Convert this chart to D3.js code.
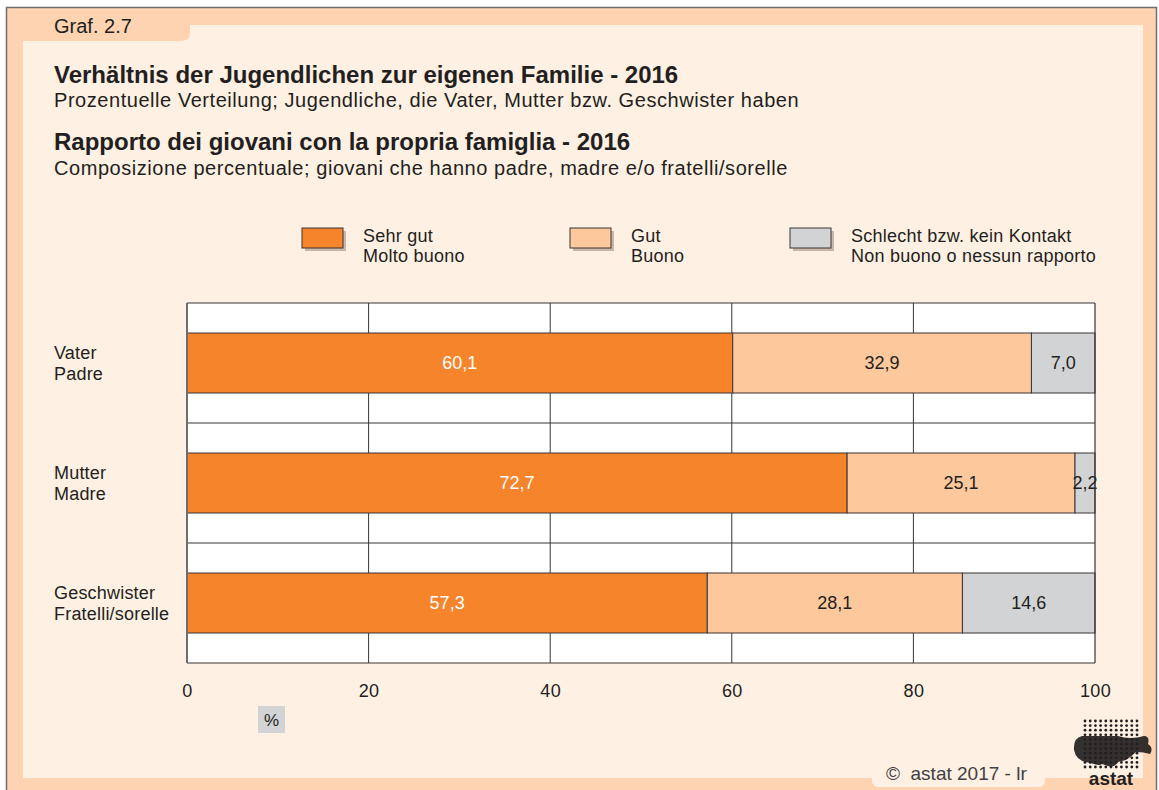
<!DOCTYPE html>
<html>
<head>
<meta charset="utf-8">
<script src="https://cdn.jsdelivr.net/npm/d3@7"></script>
<style>
  body { margin: 0; background: #fff; }
  svg text { font-family: "Liberation Sans", Arial, sans-serif; fill: #231f20; }
</style>
</head>
<body>
<svg id="chart" width="1159" height="790"></svg>
<script>
// data
var categories = [["Vater", "Padre"], ["Mutter", "Madre"], ["Geschwister", "Fratelli/sorelle"]];
var seriesNames = [["Sehr gut", "Molto buono"], ["Gut", "Buono"], ["Schlecht bzw. kein Kontakt", "Non buono o nessun rapporto"]];
var sehrGut = [60.1, 72.7, 57.3];
var gut = [32.9, 25.1, 28.1];
var schlecht = [7.0, 2.2, 14.6];
var xTicks = [0, 20, 40, 60, 80, 100];

var colors = ["#f5842b", "#fdc89b", "#d1d3d4"];
var labelColors = ["#ffffff", "#231f20", "#231f20"];

var svg = d3.select("#chart");

// frame
svg.append("rect").attr("x", 6.5).attr("y", 7.5).attr("width", 1150).attr("height", 790)
  .attr("fill", "#fdd3b2").attr("stroke", "#6d6e71").attr("stroke-width", 1.5);
// inner panel with tab cutout
svg.append("path")
  .attr("d", "M23,41 L180,41 Q190,41 190,33 L190,25 L1143,25 L1143,778 L23,778 Z")
  .attr("fill", "#fef0e3");
svg.append("text").attr("x", 54).attr("y", 33).style("font-size", "20px").text("Graf. 2.7");

// titles
var titles = [
  {t: "Verhältnis der Jugendlichen zur eigenen Familie - 2016", y: 83, bold: true},
  {t: "Prozentuelle Verteilung; Jugendliche, die Vater, Mutter bzw. Geschwister haben", y: 107, bold: false},
  {t: "Rapporto dei giovani con la propria famiglia - 2016", y: 150, bold: true},
  {t: "Composizione percentuale; giovani che hanno padre, madre e/o fratelli/sorelle", y: 175, bold: false}
];
svg.selectAll("text.title").data(titles).join("text")
  .attr("class", "title")
  .attr("x", 54).attr("y", function(d) { return d.y; })
  .style("font-size", function(d) { return d.bold ? "24px" : "20px"; })
  .style("letter-spacing", function(d) { return d.bold ? "0px" : "0.55px"; })
  .style("font-weight", function(d) { return d.bold ? "bold" : "normal"; })
  .text(function(d) { return d.t; });

// legend
var legendX = [302, 570, 790];
var legend = svg.selectAll("g.legend").data(seriesNames).join("g")
  .attr("class", "legend")
  .attr("transform", function(d, i) { return "translate(" + legendX[i] + ",228)"; });
legend.append("rect").attr("x", 3).attr("y", 3).attr("width", 41).attr("height", 20).attr("fill", "#c9b6a6");
legend.append("rect").attr("width", 41).attr("height", 20)
  .attr("fill", function(d, i) { return colors[i]; })
  .attr("stroke", "#3a3536").attr("stroke-width", 1);
legend.append("text").attr("x", 61).attr("y", 14).style("font-size", "18px").style("letter-spacing", "0.25px").text(function(d) { return d[0]; });
legend.append("text").attr("x", 61).attr("y", 34).style("font-size", "18px").style("letter-spacing", "0.25px").text(function(d) { return d[1]; });

// scales
var x = d3.scaleLinear().domain([0, 100]).range([187, 1095]);
var y = d3.scaleBand().domain(d3.range(categories.length)).range([303, 663]);
var barH = 60;

var plot = svg.append("g");
plot.append("rect").attr("x", x(0)).attr("y", y.range()[0])
  .attr("width", x(100) - x(0)).attr("height", y.range()[1] - y.range()[0]).attr("fill", "#ffffff");

// vertical grid
plot.selectAll("line.grid").data(xTicks.slice(1, -1)).join("line")
  .attr("class", "grid")
  .attr("x1", function(d) { return x(d); }).attr("x2", function(d) { return x(d); })
  .attr("y1", y.range()[0]).attr("y2", y.range()[1])
  .attr("stroke", "#3a3536").attr("stroke-width", 1);

// stacked bars
var rows = categories.map(function(c, i) {
  return {i: i, sehrGut: sehrGut[i], gut: gut[i], schlecht: schlecht[i]};
});
var stack = d3.stack().keys(["sehrGut", "gut", "schlecht"])(rows);

var bandY = function(i) { return y(i) + (y.bandwidth() - barH) / 2; };

stack.forEach(function(layer, k) {
  plot.selectAll("rect.s" + k).data(layer).join("rect")
    .attr("class", "s" + k)
    .attr("x", function(d) { return x(d[0]); })
    .attr("y", function(d) { return bandY(d.data.i); })
    .attr("width", function(d) { return x(d[1]) - x(d[0]); })
    .attr("height", barH)
    .attr("fill", colors[k])
    .attr("stroke", "#3a3536").attr("stroke-width", 1);
});
stack.forEach(function(layer, k) {
  plot.selectAll("text.v" + k).data(layer).join("text")
    .attr("class", "v" + k)
    .attr("x", function(d) { return (x(d[0]) + x(d[1])) / 2; })
    .attr("y", function(d) { return bandY(d.data.i) + barH / 2 + 6; })
    .attr("text-anchor", "middle")
    .style("font-size", "18px")
    .style("fill", labelColors[k])
    .text(function(d) { return d3.format(".1f")(d[1] - d[0]).replace(".", ","); });
});

// horizontal band separators
var hLines = [y.range()[0], y.range()[1]];
categories.forEach(function(c, i) {
  if (i > 0) hLines.push(y(i));
});
plot.selectAll("line.band").data(hLines).join("line")
  .attr("class", "band")
  .attr("x1", x(0)).attr("x2", x(100))
  .attr("y1", function(d) { return d; }).attr("y2", function(d) { return d; })
  .attr("stroke", "#3a3536").attr("stroke-width", 1.2);
// right edge
plot.append("line").attr("x1", x(100)).attr("x2", x(100))
  .attr("y1", y.range()[0]).attr("y2", y.range()[1])
  .attr("stroke", "#3a3536").attr("stroke-width", 1.2);
// left axis
plot.append("line").attr("x1", x(0)).attr("x2", x(0))
  .attr("y1", y.range()[0]).attr("y2", y.range()[1])
  .attr("stroke", "#6d6e71").attr("stroke-width", 2);

// x axis labels
var xAxis = d3.axisBottom(x).tickValues(xTicks).tickSize(0).tickPadding(0);
var gx = svg.append("g").attr("transform", "translate(0,697)").call(xAxis);
gx.select(".domain").remove();
gx.selectAll("text").attr("dy", 0).style("font-size", "18px").style("letter-spacing", "0.4px")
  .style("font-family", "'Liberation Sans', Arial, sans-serif").attr("fill", "#231f20");

// % box
svg.append("rect").attr("x", 258).attr("y", 706).attr("width", 27).attr("height", 27).attr("fill", "#d1d3d4");
svg.append("text").attr("x", 271.5).attr("y", 726).attr("text-anchor", "middle").style("font-size", "17px").text("%");

// category labels
var cat = svg.selectAll("g.cat").data(categories).join("g")
  .attr("class", "cat")
  .attr("transform", function(d, i) { return "translate(54," + (y(i) + y.bandwidth() / 2) + ")"; });
cat.append("text").attr("y", -4).style("font-size", "18px").style("letter-spacing", "0.2px").text(function(d) { return d[0]; });
cat.append("text").attr("y", 17).style("font-size", "18px").style("letter-spacing", "0.2px").text(function(d) { return d[1]; });

// footer
svg.append("rect").attr("x", 872).attr("y", 755).attr("width", 173).attr("height", 32).attr("rx", 6)
  .attr("fill", "#fef0e3");
svg.append("text").attr("x", 886).attr("y", 780).style("font-size", "19px").style("fill", "#414042")
  .attr("xml:space", "preserve")
  .text("©  astat 2017 - lr");

// logo
var logo = svg.append("g").attr("transform", "translate(1070,718)");
var dots = [];
for (var r = 0; r < 11; r++) for (var c = 0; c < 11; c++) dots.push([c, r]);
logo.selectAll("circle").data(dots).join("circle")
  .attr("cx", function(d) { return 15 + d[0] * 5.2; })
  .attr("cy", function(d) { return 3 + d[1] * 4.6; })
  .attr("r", 1.4).attr("fill", "#231f20");
logo.append("path")
  .attr("d", "M12,18 Q3,20 4,32 Q6,42 16,44 L24,46 Q30,48 32,46 L38,48 Q44,50 48,44 L56,42 Q62,38 66,34 Q74,34 80,36 Q84,30 78,26 Q80,18 74,18 Q60,22 48,18 L24,18 Z")
  .attr("fill", "#231f20").attr("opacity", 0.92);
logo.append("text").attr("x", 41).attr("y", 67).attr("text-anchor", "middle")
  .style("font-size", "19px").style("font-weight", "bold").text("astat");
</script>
</body>
</html>
